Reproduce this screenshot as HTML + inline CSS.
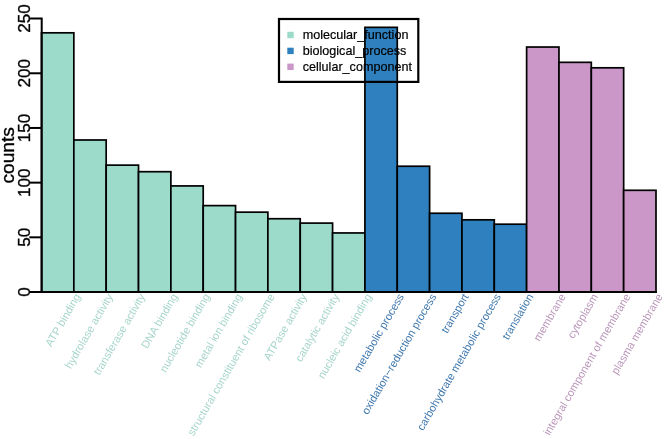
<!DOCTYPE html><html><head><meta charset="utf-8"><title>GO counts</title><style>html,body{margin:0;padding:0;background:#fff}svg{display:block;will-change:transform}text{font-family:"Liberation Sans",Arial,Helvetica,sans-serif}</style></head><body>
<svg width="666" height="439" viewBox="0 0 666 439">
<rect width="666" height="439" fill="#fff"/>
<g stroke="#000" stroke-width="1.7" stroke-linejoin="miter">
<rect x="41.50" y="32.82" width="32.34" height="259.18" fill="#9CDACA"/>
<rect x="73.84" y="139.99" width="32.34" height="152.01" fill="#9CDACA"/>
<rect x="106.18" y="165.14" width="32.34" height="126.86" fill="#9CDACA"/>
<rect x="138.53" y="171.70" width="32.34" height="120.30" fill="#9CDACA"/>
<rect x="170.87" y="185.92" width="32.34" height="106.08" fill="#9CDACA"/>
<rect x="203.21" y="205.61" width="32.34" height="86.39" fill="#9CDACA"/>
<rect x="235.55" y="212.17" width="32.34" height="79.83" fill="#9CDACA"/>
<rect x="267.89" y="218.73" width="32.34" height="73.27" fill="#9CDACA"/>
<rect x="300.24" y="223.10" width="32.34" height="68.90" fill="#9CDACA"/>
<rect x="332.58" y="232.95" width="32.34" height="59.05" fill="#9CDACA"/>
<rect x="364.92" y="27.35" width="32.34" height="264.65" fill="#2F80BE"/>
<rect x="397.26" y="166.24" width="32.34" height="125.76" fill="#2F80BE"/>
<rect x="429.61" y="213.26" width="32.34" height="78.74" fill="#2F80BE"/>
<rect x="461.95" y="219.82" width="32.34" height="72.18" fill="#2F80BE"/>
<rect x="494.29" y="224.20" width="32.34" height="67.80" fill="#2F80BE"/>
<rect x="526.63" y="47.03" width="32.34" height="244.97" fill="#CB97C9"/>
<rect x="558.97" y="62.34" width="32.34" height="229.66" fill="#CB97C9"/>
<rect x="591.32" y="67.81" width="32.34" height="224.19" fill="#CB97C9"/>
<rect x="623.66" y="190.30" width="32.34" height="101.70" fill="#CB97C9"/>
</g>
<g stroke="#000" stroke-width="2.0" fill="none" stroke-linecap="butt">
<path d="M29.3 18.60H41.7V292.0" stroke-linejoin="miter"/>
<path d="M29.3 292.00H41.5"/>
<path d="M29.3 237.32H41.5"/>
<path d="M29.3 182.64H41.5"/>
<path d="M29.3 127.96H41.5"/>
<path d="M29.3 73.28H41.5"/>
<path d="M40.5 292.0H656.85"/>
</g>
<text transform="translate(29.5 292.00) rotate(-90)" text-anchor="middle" font-size="17.1" fill="#000" stroke="#000" stroke-width="0.35">0</text>
<text transform="translate(29.5 237.32) rotate(-90)" text-anchor="middle" font-size="17.1" fill="#000" stroke="#000" stroke-width="0.35">50</text>
<text transform="translate(29.5 182.64) rotate(-90)" text-anchor="middle" font-size="17.1" fill="#000" stroke="#000" stroke-width="0.35">100</text>
<text transform="translate(29.5 127.96) rotate(-90)" text-anchor="middle" font-size="17.1" fill="#000" stroke="#000" stroke-width="0.35">150</text>
<text transform="translate(29.5 73.28) rotate(-90)" text-anchor="middle" font-size="17.1" fill="#000" stroke="#000" stroke-width="0.35">200</text>
<text transform="translate(29.5 18.60) rotate(-90)" text-anchor="middle" font-size="17.1" fill="#000" stroke="#000" stroke-width="0.35">250</text>
<text transform="translate(14.2 155.30) rotate(-90)" text-anchor="middle" font-size="19.2" fill="#000" stroke="#000" stroke-width="0.35">counts</text>
<text transform="translate(80.94 296.5) rotate(-59.8)" text-anchor="end" font-size="11.0" fill="#A6D5CB">ATP binding</text>
<text transform="translate(113.28 296.5) rotate(-59.8)" text-anchor="end" font-size="11.0" fill="#A6D5CB">hydrolase activity</text>
<text transform="translate(145.63 296.5) rotate(-59.8)" text-anchor="end" font-size="11.0" fill="#A6D5CB">transferase activity</text>
<text transform="translate(177.97 296.5) rotate(-59.8)" text-anchor="end" font-size="11.0" fill="#A6D5CB">DNA binding</text>
<text transform="translate(210.31 296.5) rotate(-59.8)" text-anchor="end" font-size="11.0" fill="#A6D5CB">nucleotide binding</text>
<text transform="translate(242.65 296.5) rotate(-59.8)" text-anchor="end" font-size="11.0" fill="#A6D5CB">metal ion binding</text>
<text transform="translate(274.99 296.5) rotate(-59.8)" text-anchor="end" font-size="11.0" fill="#A6D5CB">structural constituent of ribosome</text>
<text transform="translate(307.34 296.5) rotate(-59.8)" text-anchor="end" font-size="11.0" fill="#A6D5CB">ATPase activity</text>
<text transform="translate(339.68 296.5) rotate(-59.8)" text-anchor="end" font-size="11.0" fill="#A6D5CB">catalytic activity</text>
<text transform="translate(372.02 296.5) rotate(-59.8)" text-anchor="end" font-size="11.0" fill="#A6D5CB">nucleic acid binding</text>
<text transform="translate(404.36 296.5) rotate(-59.8)" text-anchor="end" font-size="11.0" fill="#3E77AD">metabolic process</text>
<text transform="translate(436.71 296.5) rotate(-59.8)" text-anchor="end" font-size="11.0" fill="#3E77AD">oxidation−reduction process</text>
<text transform="translate(469.05 296.5) rotate(-59.8)" text-anchor="end" font-size="11.0" fill="#3E77AD">transport</text>
<text transform="translate(501.39 296.5) rotate(-59.8)" text-anchor="end" font-size="11.0" fill="#3E77AD">carbohydrate metabolic process</text>
<text transform="translate(533.73 296.5) rotate(-59.8)" text-anchor="end" font-size="11.0" fill="#3E77AD">translation</text>
<text transform="translate(566.07 296.5) rotate(-59.8)" text-anchor="end" font-size="11.0" fill="#BA95B9">membrane</text>
<text transform="translate(598.42 296.5) rotate(-59.8)" text-anchor="end" font-size="11.0" fill="#BA95B9">cytoplasm</text>
<text transform="translate(630.76 296.5) rotate(-59.8)" text-anchor="end" font-size="11.0" fill="#BA95B9">integral component of membrane</text>
<text transform="translate(663.10 296.5) rotate(-59.8)" text-anchor="end" font-size="11.0" fill="#BA95B9">plasma membrane</text>
<rect x="279" y="19" width="139.3" height="62.9" fill="none" stroke="#000" stroke-width="2.2"/>
<rect x="287.3" y="31.80" width="6.4" height="6.4" fill="#9CDACA"/>
<text x="302.7" y="39.30" font-size="12.6" fill="#000" stroke="#000" stroke-width="0.2">molecular_function</text>
<rect x="287.3" y="47.70" width="6.4" height="6.4" fill="#2F80BE"/>
<text x="302.7" y="55.20" font-size="12.6" fill="#000" stroke="#000" stroke-width="0.2">biological_process</text>
<rect x="287.3" y="63.60" width="6.4" height="6.4" fill="#CB97C9"/>
<text x="302.7" y="71.10" font-size="12.6" fill="#000" stroke="#000" stroke-width="0.2">cellular_component</text>
</svg></body></html>
